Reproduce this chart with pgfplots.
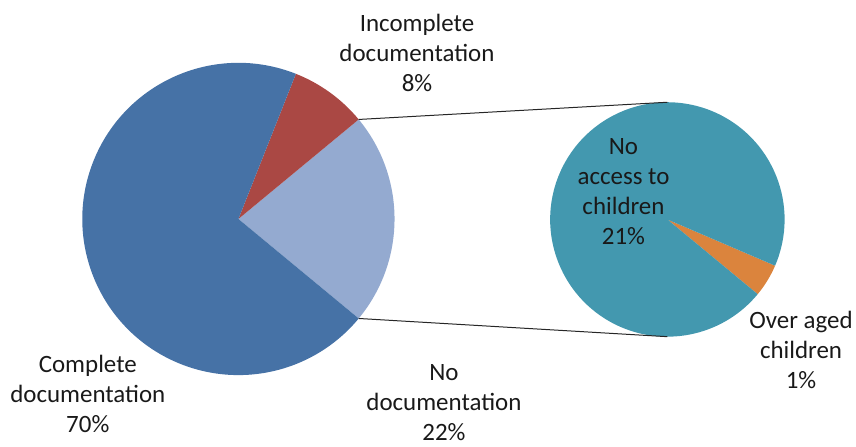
\documentclass[border=0pt]{standalone}
\usepackage{pgfplots}
\usepackage{pgfplotstable}
\pgfplotsset{compat=1.18}
\usepackage{fontspec}
\setmainfont{Carlito}
\definecolor{cComp}{HTML}{4672A6}
\definecolor{cInc}{HTML}{AA4844}
\definecolor{cNo}{HTML}{94AAD0}
\definecolor{cAcc}{HTML}{4398AF}
\definecolor{cOver}{HTML}{DB843D}
\pgfplotstableread{
slice value
NoDoc 22
Incomplete 8
Complete 70
}\maindata
\pgfplotstableread{
slice value
OverAged 1
NoAccess 21
}\subdata
\begin{document}
\begin{tikzpicture}
\pgfplotstablegetelem{0}{value}\of\maindata \edef\vNo{\pgfplotsretval}
\pgfplotstablegetelem{1}{value}\of\maindata \edef\vInc{\pgfplotsretval}
\pgfplotstablegetelem{2}{value}\of\maindata \edef\vComp{\pgfplotsretval}
\pgfplotstablegetelem{0}{value}\of\subdata \edef\vOver{\pgfplotsretval}
\pgfplotstablegetelem{1}{value}\of\subdata \edef\vAcc{\pgfplotsretval}
\pgfmathsetmacro\aA{-\vNo*3.6/2}
\pgfmathsetmacro\aB{\aA+\vNo*3.6}
\pgfmathsetmacro\aC{\aB+\vInc*3.6}
\pgfmathsetmacro\aD{\aC+\vComp*3.6}
\pgfmathsetmacro\sTot{\vOver+\vAcc}
\pgfmathsetmacro\bA{\aA}
\pgfmathsetmacro\bB{\bA+\vOver/\sTot*360}
\pgfmathsetmacro\bC{\bA+360}
\begin{axis}[width=856pt,height=448pt,scale only axis,
  xmin=0,xmax=856,ymin=0,ymax=448,hide axis,clip=false]
\path (rel axis cs:0,0) rectangle (rel axis cs:1,1);
% main pie
\fill[cNo] (axis cs:239,228.5) -- ++(\aA:156.5pt) arc[start angle=\aA,end angle=\aB,radius=156.5pt] -- cycle;
\fill[cInc] (axis cs:239,228.5) -- ++(\aB:156.5pt) arc[start angle=\aB,end angle=\aC,radius=156.5pt] -- cycle;
\fill[cComp] (axis cs:239,228.5) -- ++(\aC:156.5pt) arc[start angle=\aC,end angle=\aD,radius=156.5pt] -- cycle;
% sub pie
\fill[cOver] (axis cs:669,228) -- ++(\bA:117.5pt) arc[start angle=\bA,end angle=\bB,radius=117.5pt] -- cycle;
\fill[cAcc] (axis cs:669,228) -- ++(\bB:117.5pt) arc[start angle=\bB,end angle=\bC,radius=117.5pt] -- cycle;
% connectors
\draw[black!85,line width=1pt] (axis cs:239,228.5) ++(\aB:156.5pt) -- (axis cs:669,345.5);
\draw[black!85,line width=1pt] (axis cs:239,228.5) ++(\aA:156.5pt) -- (axis cs:669,110.5);
% labels
\begin{scope}[every node/.style={align=center,text=black!90,font={\fontsize{25}{30}\selectfont}}]
\node at (axis cs:418,395) {Incomplete\\documentation\\8\%};
\node at (axis cs:88,53) {Complete\\documentation\\70\%};
\node at (axis cs:445,44) {No\\documentation\\22\%};
\node at (axis cs:625,256) {No\\access to\\children\\21\%};
\node at (axis cs:803,97) {Over aged\\children\\1\%};
\end{scope}
\end{axis}
\end{tikzpicture}
\end{document}
